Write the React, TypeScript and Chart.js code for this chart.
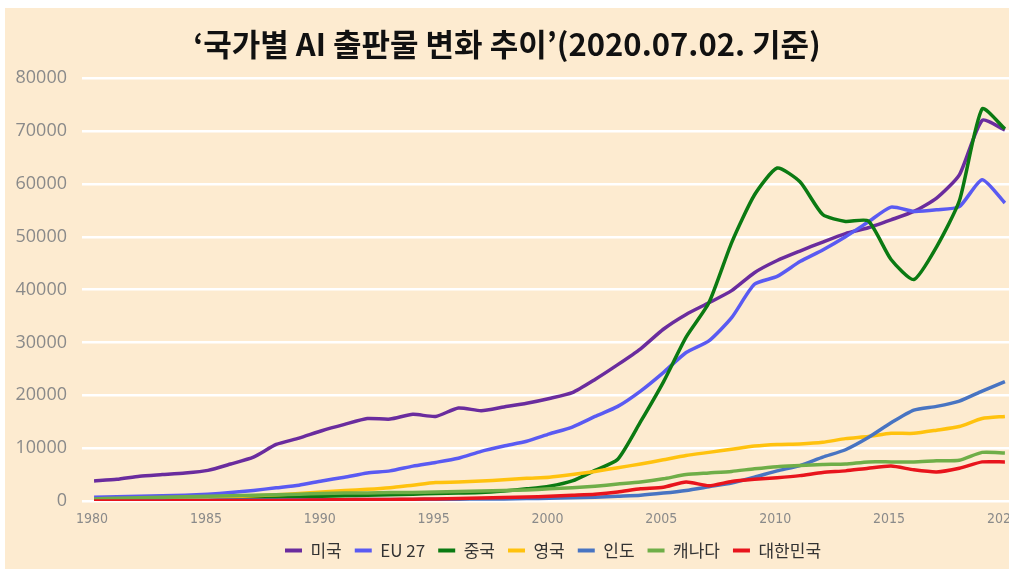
import React, { useEffect, useRef } from 'react';
import { Chart, registerables } from 'chart.js';

Chart.register(...registerables);

const years = [
  1980, 1981, 1982, 1983, 1984, 1985, 1986, 1987, 1988, 1989,
  1990, 1991, 1992, 1993, 1994, 1995, 1996, 1997, 1998, 1999,
  2000, 2001, 2002, 2003, 2004, 2005, 2006, 2007, 2008, 2009,
  2010, 2011, 2012, 2013, 2014, 2015, 2016, 2017, 2018, 2019, 2020,
];

const usa = [
  3800, 4100, 4700, 5000, 5300, 5800, 7000, 8300, 10700, 11900,
  13300, 14500, 15600, 15500, 16400, 16000, 17600, 17100, 17800, 18500,
  19400, 20500, 23000, 25800, 28800, 32500, 35300, 37500, 39800, 43200,
  45500, 47300, 49000, 50600, 51700, 53200, 54800, 57300, 61700, 72000, 70200,
];

const eu27 = [
  700, 800, 900, 1000, 1100, 1300, 1600, 2000, 2500, 3000,
  3800, 4500, 5300, 5700, 6600, 7300, 8100, 9400, 10400, 11300,
  12700, 14000, 16000, 17900, 20800, 24300, 28100, 30300, 34700, 41000,
  42500, 45300, 47500, 50000, 52800, 55600, 54800, 55100, 55700, 60800, 56400,
];

const china = [
  100, 150, 200, 250, 300, 400, 500, 600, 700, 800,
  900, 1000, 1100, 1200, 1300, 1400, 1500, 1600, 1900, 2300,
  2800, 3800, 5800, 7900, 15000, 22500, 31000, 37500, 48900, 57900,
  63000, 60400, 54200, 52900, 53000, 45700, 41900, 48100, 56800, 74200, 70400,
];

const uk = [
  200, 250, 300, 400, 500, 600, 800, 1000, 1200, 1400,
  1700, 2000, 2200, 2500, 3000, 3500, 3600, 3800, 4000, 4300,
  4500, 5000, 5600, 6300, 7000, 7800, 8600, 9200, 9800, 10400,
  10700, 10800, 11100, 11800, 12200, 12800, 12800, 13400, 14100, 15600, 16000,
];

const india = [
  100, 100, 100, 150, 150, 150, 200, 200, 200, 250,
  250, 250, 300, 300, 300, 350, 350, 400, 400, 450,
  500, 600, 700, 900, 1100, 1500, 2000, 2700, 3400, 4500,
  5700, 6700, 8300, 9700, 12000, 14800, 17200, 17900, 18900, 20800, 22600,
];

const canada = [
  400, 500, 600, 700, 800, 900, 1000, 1100, 1200, 1300,
  1400, 1500, 1500, 1600, 1600, 1700, 1800, 1900, 2000, 2100,
  2300, 2500, 2800, 3200, 3600, 4200, 5000, 5300, 5600, 6100,
  6500, 6700, 6900, 7000, 7400, 7400, 7400, 7600, 7700, 9200, 9100,
];

const korea = [
  0, 0, 0, 0, 50, 50, 100, 100, 100, 150,
  200, 250, 300, 300, 350, 400, 450, 550, 650, 750,
  900, 1100, 1300, 1700, 2300, 2600, 3600, 2900, 3700, 4100,
  4400, 4800, 5400, 5700, 6200, 6600, 5900, 5500, 6200, 7400, 7400,
];

const seriesNames = ['미국', 'EU 27', '중국', '영국', '인도', '캐나다', '대한민국'];
const seriesColors = ['#6A2C9E', '#5A5AF2', '#0B7A12', '#FFC20E', '#4874C2', '#6FAE48', '#E8141C'];
const seriesValues = [usa, eu27, china, uk, india, canada, korea];

const xTickYears = [1980, 1985, 1990, 1995, 2000, 2005, 2010, 2015, 2020];
const yTicks = [0, 10000, 20000, 30000, 40000, 50000, 60000, 70000, 80000];

const titleText = '‘국가별 AI 출판물 변화 추이’(2020.07.02. 기준)';

const legendShift = {
  id: 'legendShift',
  afterLayout(chart: any) {
    const lg = chart.legend;
    if (lg) {
      lg.left += 46;
      lg.right += 46;
    }
  },
};

export default function App() {
  const canvasRef = useRef<HTMLCanvasElement | null>(null);

  useEffect(() => {
    const canvas = canvasRef.current;
    if (!canvas) return;
    const n = seriesNames.length;
    const datasets = seriesNames.map((name, i) => ({
      label: name,
      data: years.map((yr, j) => ({ x: yr, y: seriesValues[i][j] })),
      borderColor: seriesColors[i],
      backgroundColor: seriesColors[i],
      borderWidth: 3.5,
      pointRadius: 0,
      tension: 0.2,
      order: n - i,
    }));

    const chart = new Chart(canvas, {
      type: 'line',
      data: { datasets },
      plugins: [legendShift],
      options: {
        animation: false,
        responsive: false,
        layout: { padding: 0 },
        plugins: {
          tooltip: { enabled: false },
          title: {
            display: true,
            text: titleText,
            color: '#111111',
            font: { family: '"Noto Sans CJK KR", sans-serif', size: 31, weight: 'bold' },
            padding: { top: 18, bottom: 15 },
          },
          legend: {
            position: 'bottom',
            labels: {
              boxWidth: 17,
              boxHeight: 4,
              padding: 13,
              color: '#333333',
              font: { family: '"Noto Sans CJK KR", sans-serif', size: 17 },
              sort: (a: any, b: any) => a.datasetIndex - b.datasetIndex,
              generateLabels: (c: any) =>
                Chart.defaults.plugins.legend.labels
                  .generateLabels(c)
                  .map((l: any) => ({ ...l, lineWidth: 0, fillStyle: l.strokeStyle })),
            },
          },
        },
        scales: {
          x: {
            type: 'linear',
            min: 1979.47,
            max: 2020.18,
            grid: { display: false, drawTicks: false },
            border: { display: false },
            ticks: {
              color: '#8a8a8a',
              padding: 10,
              maxRotation: 0,
              labelOffset: -2,
              font: { family: '"Liberation Sans Narrow", "DejaVu Sans Condensed", "Noto Sans", sans-serif', size: 14 },
              callback: (v: any) => String(v),
            },
            afterBuildTicks: (s: any) => {
              s.ticks = xTickYears.map((v) => ({ value: v }));
            },
            afterFit: (s: any) => {
              s.height = 28;
              s.paddingLeft = 0;
              s.paddingRight = 0;
            },
          },
          y: {
            type: 'linear',
            min: 0,
            max: 80000,
            grid: { color: '#FFFFFF', lineWidth: 2.5, drawTicks: false },
            border: { display: false },
            ticks: {
              color: '#8a8a8a',
              padding: 15,
              font: { family: '"Open Sans", sans-serif', size: 18 },
              callback: (v: any) => String(v),
            },
            afterBuildTicks: (s: any) => {
              s.ticks = yTicks.map((v) => ({ value: v }));
            },
            afterFit: (s: any) => {
              s.width = 77;
            },
          },
        },
      },
    } as any);

    return () => chart.destroy();
  }, []);

  return (
    <div
      style={{
        position: 'absolute',
        left: 5,
        top: 8,
        width: 1004,
        height: 561,
        background: '#FDEBD0',
      }}
    >
      <canvas ref={canvasRef} width={1004} height={561} style={{ display: 'block' }} />
    </div>
  );
}
